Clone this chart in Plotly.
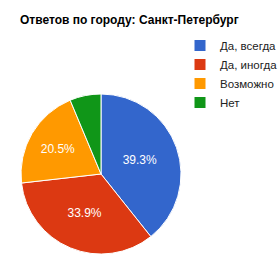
import plotly.graph_objects as go

labels = ["Да, всегда", "Да, иногда", "Возможно", "Нет"]
values = [39.3, 33.9, 20.5, 6.3]
colors = ["#3366cc", "#dc3912", "#ff9900", "#109618"]
shown = ["%{percent:.1%}", "%{percent:.1%}", "%{percent:.1%}", ""]

W, H = 280, 278
fig = go.Figure(go.Pie(
    labels=labels, values=values, sort=False, direction="clockwise",
    marker=dict(colors=colors, line=dict(color="white", width=1)),
    texttemplate=shown, textposition="inside", insidetextorientation="horizontal",
    textfont=dict(color="white", size=12, family="Liberation Sans"),
    domain=dict(x=[21 / W, 181 / W], y=[1 - 254 / H, 1 - 94 / H]),
    hoverinfo="none",
))
fig.update_layout(
    width=W, height=H, margin=dict(l=0, r=0, t=0, b=0, autoexpand=False),
    paper_bgcolor="white",
    font=dict(family="Liberation Sans", color="#222222"),
    title=dict(text="<b>Ответов по городу: Санкт-Петербург</b>", x=20 / W, xanchor="left",
               xref="paper", y=1 - 20 / H, yanchor="middle", yref="container",
               font=dict(size=12, color="#000000", family="Liberation Sans")),
    legend=dict(x=180 / W, y=1 - 31 / H, xanchor="left", yanchor="top",
                font=dict(size=11.5, color="#222222"), tracegroupgap=0,
                itemwidth=30, bgcolor="rgba(0,0,0,0)"),
)
fig.write_html("out.html")
